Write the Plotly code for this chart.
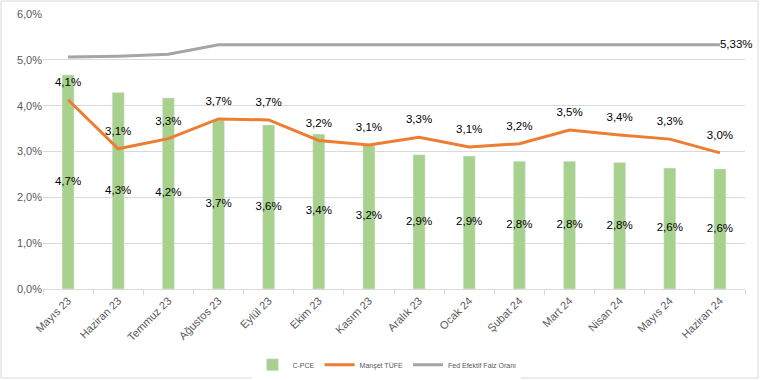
import plotly.graph_objects as go

months = ["Mayıs 23", "Haziran 23", "Temmuz 23", "Ağustos 23", "Eylül 23", "Ekim 23", "Kasım 23",
          "Aralık 23", "Ocak 24", "Şubat 24", "Mart 24", "Nisan 24", "Mayıs 24", "Haziran 24"]
cpce = [4.67, 4.29, 4.17, 3.69, 3.58, 3.38, 3.16, 2.93, 2.90, 2.79, 2.79, 2.76, 2.64, 2.62]
tufe = [4.13, 3.06, 3.28, 3.71, 3.69, 3.24, 3.14, 3.31, 3.10, 3.17, 3.47, 3.36, 3.27, 2.97]
fed = [5.06, 5.08, 5.12, 5.33, 5.33, 5.33, 5.33, 5.33, 5.33, 5.33, 5.33, 5.33, 5.33, 5.33]

def fmt(v, d=1):
    return f"{v:.{d}f}".replace(".", ",") + "%"

FONT = "Liberation Sans"
LBL = dict(family=FONT, size=11.5, color="#000000")
fig = go.Figure()
fig.add_trace(go.Bar(x=months, y=cpce, name="C-PCE", marker_color="#A9D18E", width=0.24,
                     hoverinfo="skip"))
fig.add_trace(go.Scatter(x=months, y=[v / 2 for v in cpce], mode="text",
                         text=[fmt(v) for v in cpce], textposition="middle center",
                         textfont=LBL, showlegend=False, hoverinfo="skip"))
fig.add_trace(go.Scatter(x=months, y=tufe, name="Manşet TÜFE", mode="lines+markers+text",
                         line=dict(color="#ED7D31", width=3),
                         marker=dict(size=16, color="rgba(0,0,0,0)", line=dict(width=0)),
                         text=[fmt(v) for v in tufe], textposition="top center",
                         textfont=LBL))
fig.add_trace(go.Scatter(x=months, y=fed, name="Fed Efektif Faiz Oranı", mode="lines+text",
                         line=dict(color="#A5A5A5", width=3),
                         text=[""] * (len(fed) - 1) + [fmt(fed[-1], 2)],
                         textposition="middle right",
                         textfont=LBL, cliponaxis=False))

l, r, t, b = 43, 15, 14, 91
W, H = 760, 380
pw, ph = W - l - r, H - t - b
fig.add_shape(type="rect", xref="paper", yref="paper",
              x0=(1 - l) / pw, x1=(W - 2 - l) / pw,
              y0=(H - b - (H - 2)) / ph, y1=(H - b - 1) / ph,
              line=dict(color="#D9D9D9", width=1), layer="below")

fig.update_layout(
    width=W, height=H, margin=dict(l=l, r=r, t=t, b=b, autoexpand=False),
    plot_bgcolor="white", paper_bgcolor="white",
    separators=",.",
    font=dict(family=FONT, color="#595959"),
    legend=dict(orientation="h", x=0.49, xanchor="center", yref="container", y=0.04,
                yanchor="middle", font=dict(size=7, color="#595959"), itemwidth=30),
    xaxis=dict(tickangle=-45, tickfont=dict(size=11, color="#595959"), automargin=False,
               showline=True, linecolor="#D9D9D9", ticks="outside", tickson="boundaries",
               ticklen=5, tickcolor="#D9D9D9", showgrid=False, range=[-0.5, 13.5]),
    yaxis=dict(range=[0, 6], dtick=1, tickformat=".1f", ticksuffix="%", automargin=False,
               tickfont=dict(size=11, color="#595959"),
               showgrid=True, gridcolor="#D9D9D9", zeroline=False, showline=False),
    bargap=0.76,
)
fig.write_html("out.html", config={"displayModeBar": False},
               post_script="document.body.style.margin='0px';document.body.style.overflow='hidden';")
